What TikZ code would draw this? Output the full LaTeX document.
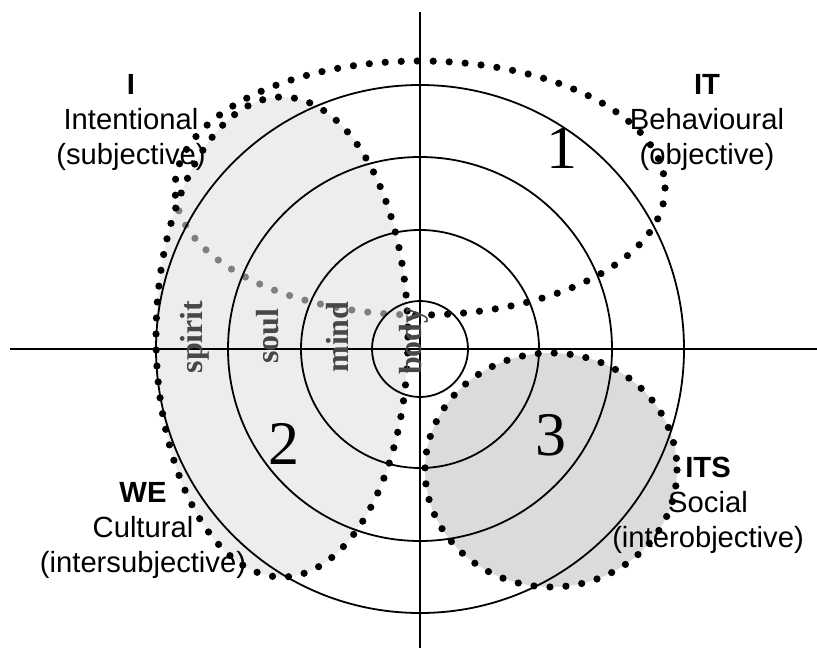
\documentclass[tikz,border=0pt]{standalone}
\usepackage{fontspec}
\setmainfont{Liberation Serif}
\setsansfont{Liberation Sans}
\tikzset{
  quad axis/.style={draw=black, line width=1pt},
  ring/.style={draw=black, line width=0.9pt},
  dot ring/.style={draw=black, line width=3.6pt, line cap=round,
    dash pattern=on 0pt off 8pt},
  quad label/.style={font=\sffamily\fontsize{14.6}{17.5}\selectfont,
    align=center, inner sep=0pt},
  level label/.style={font=\bfseries\fontsize{16}{18}\selectfont,
    text=black!72, rotate=90, inner sep=0pt},
  zone number/.style={font=\fontsize{31}{36}\selectfont, inner sep=0pt},
}

\begin{document}
\begin{tikzpicture}[x=0.5pt, y=-0.5pt]
  \useasboundingbox (0,0) rectangle (817,657);
  \coordinate (O) at (420,349);

  % upper zone, partly covered by the left one
  \draw[dot ring] (420,188) ellipse[x radius=245, y radius=127];

  % shaded zones
  \fill[black!12, fill opacity=0.57] (282,337) ellipse[x radius=126, y radius=240];
  \fill[black!14] (551,470) ellipse[x radius=126, y radius=117];

  % levels and quadrants
  \foreach \r in {48,119,192,264}
    \draw[ring] (O) circle[radius=\r];
  \draw[quad axis] (10,349) -- (817,349);
  \draw[quad axis] (420,12) -- (420,648);

  \draw[dot ring] (282,337) ellipse[x radius=126, y radius=240];
  \draw[dot ring] (551,470) ellipse[x radius=126, y radius=117];

  % level names
  \node[level label] (spirit) at (195,337) {spirit};
  \node[level label] (soul) at (268,336) {soul};
  \node[level label] (mind) at (338,337) {mind};
  \node[level label] (body) at (414,341) {body};

  \node[zone number] (z1) at (562,148) {1};
  \node[zone number] (z2) at (284,444) {2};
  \node[zone number] (z3) at (551,435) {3};

  % quadrant names
  \node[quad label] (qI) at (131,122) {\textbf{I}\\Intentional\\(subjective)};
  \node[quad label] (qIT) at (707,122) {\textbf{IT}\\Behavioural\\(objective)};
  \node[quad label] (qWE) at (143,530) {\textbf{WE}\\Cultural\\(intersubjective)};
  \node[quad label] (qITS) at (708,505) {\textbf{ITS}\\Social\\(interobjective)};
\end{tikzpicture}
\end{document}
